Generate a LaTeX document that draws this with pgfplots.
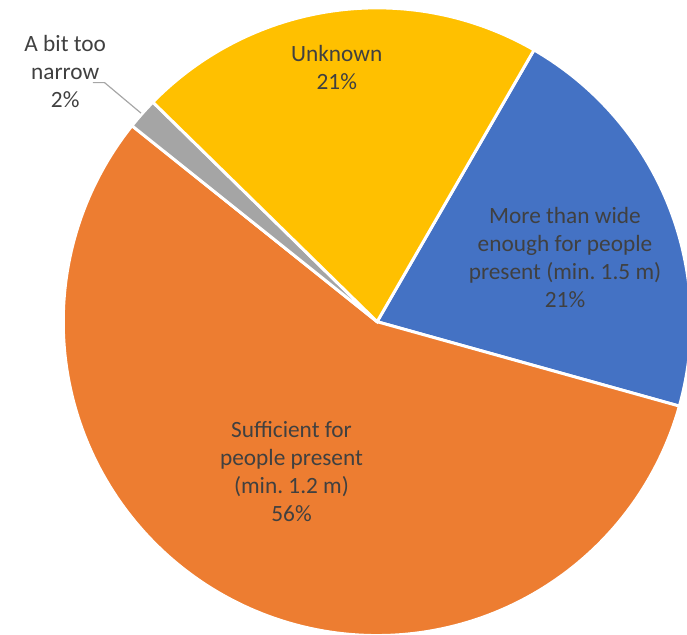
\documentclass[border=0pt]{standalone}
\usepackage{pgfplots}
\usepackage{pgfplotstable}
\pgfplotsset{compat=1.18}
\usepackage{fontspec}
\setmainfont{Carlito}
\frenchspacing
\definecolor{pieblue}{HTML}{4472C4}
\definecolor{pieorange}{HTML}{ED7D31}
\definecolor{piegray}{HTML}{A5A5A5}
\definecolor{pieyellow}{HTML}{FFC000}
\definecolor{txt}{HTML}{404040}
\definecolor{leader}{HTML}{A6A6A6}

\pgfplotstableread{
label value
wide 21.0
sufficient 56.4
narrow 1.6
unknown 21.0
}\piedata

\tikzset{lbl/.style={font=\fontsize{23.7}{28.6}\selectfont, text=txt, align=center, inner sep=0pt}}

\begin{document}
\pgfplotstablegetelem{0}{value}\of\piedata \let\vA\pgfplotsretval
\pgfplotstablegetelem{1}{value}\of\piedata \let\vB\pgfplotsretval
\pgfplotstablegetelem{2}{value}\of\piedata \let\vC\pgfplotsretval
\pgfplotstablegetelem{3}{value}\of\piedata \let\vD\pgfplotsretval
\pgfmathsetmacro\aA{30}
\pgfmathsetmacro\aB{\aA+3.6*\vA}
\pgfmathsetmacro\aC{\aB+3.6*\vB}
\pgfmathsetmacro\aD{\aC+3.6*\vC}
\pgfmathsetmacro\aE{\aD+3.6*\vD}
\begin{tikzpicture}
\begin{axis}[
  at={(0,0)}, anchor=south west,
  x=1pt, y=1pt,
  xmin=0, xmax=687, ymin=0, ymax=645,
  hide axis, clip=true,
]
\addplot[fill=pieblue, draw=white, line width=3pt, domain=\aA:\aB, samples=80, variable=\t]
  ({372+319*sin(\t)}, {318+319*cos(\t)}) -- (axis cs:372,318) -- cycle;
\addplot[fill=pieorange, draw=white, line width=3pt, domain=\aB:\aC, samples=160, variable=\t]
  ({372+319*sin(\t)}, {318+319*cos(\t)}) -- (axis cs:372,318) -- cycle;
\addplot[fill=piegray, draw=white, line width=3pt, domain=\aC:\aD, samples=10, variable=\t]
  ({372+319*sin(\t)}, {318+319*cos(\t)}) -- (axis cs:372,318) -- cycle;
\addplot[fill=pieyellow, draw=white, line width=3pt, domain=\aD:\aE, samples=80, variable=\t]
  ({372+319*sin(\t)}, {318+319*cos(\t)}) -- (axis cs:372,318) -- cycle;
\addplot[draw=leader, line width=1.2pt, no marks] coordinates {(83,561) (95,561) (132,530)};
\node[lbl] at (axis cs:55,572.5) {A bit too\\narrow\\2\%};
\node[lbl] at (axis cs:331,576.5) {Unknown\\21\%};
\node[lbl] at (axis cs:563,383.5) {More than wide\\enough for people\\present (min. 1.5 m)\\21\%};
\node[lbl] at (axis cs:285,166) {Sufficient for\\people present\\(min. 1.2 m)\\56\%};
\end{axis}
\pgfresetboundingbox
\path (0,0) rectangle (687pt,645pt);
\end{tikzpicture}
\end{document}
